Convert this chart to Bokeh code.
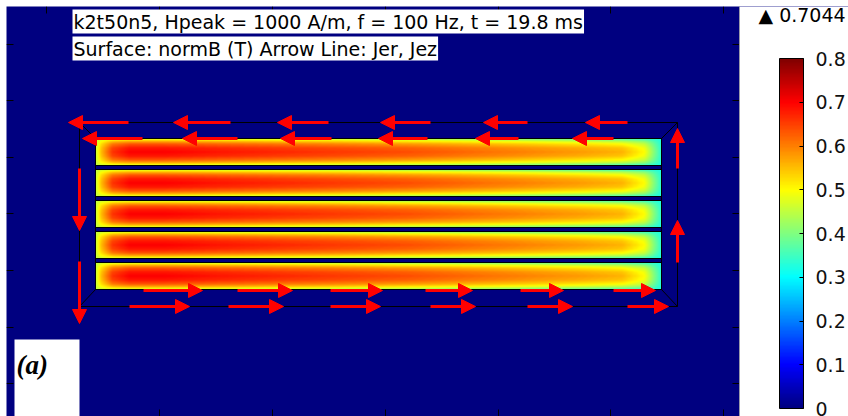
import numpy as np
from bokeh.plotting import figure
from bokeh.models import (Range1d, ColumnDataSource, Arrow, NormalHead, Label, ColorBar,
                          LinearColorMapper, FixedTicker, PrintfTickFormatter,
                          BoxAnnotation, Span)
from bokeh.embed import file_html
from bokeh.resources import INLINE

# ---------------- data ----------------
title_line1 = "k2t50n5, Hpeak = 1000 A/m, f = 100 Hz, t = 19.8 ms"
title_line2 = "Surface: normB (T) Arrow Line: Jer, Jez"
peak_label = "\u25B2 0.7044"
panel_label = "(a)"

# geometry (units: reference pixels, origin at lower-left of lamination stack)
strip_length = 566
strip_thickness = 27
strip_bottoms = [0, 31, 62, 93, 124]
stack_top = 151
outer_left, outer_right, outer_bottom, outer_top = -16, 582, -17, 167
domain_right = 644          # right edge of the plotted domain (navy area)

# normB profile along the lamination (u = 0 .. 1), centre line and surface
u_pts = [0.0, 0.01, 0.03, 0.06, 0.12, 0.25, 0.40, 0.55, 0.70, 0.85, 0.93, 0.97, 1.0]
center_B = [0.45, 0.55, 0.66, 0.70, 0.70, 0.68, 0.66, 0.64, 0.61, 0.58, 0.56, 0.50, 0.33]
edge_B = [0.45, 0.45, 0.45, 0.45, 0.45, 0.44, 0.43, 0.41, 0.39, 0.36, 0.34, 0.33, 0.32]
# relative depth profile across the thickness (0 = mid-plane, 1 = surface)
v_pts = [0.0, 0.3, 0.6, 0.8, 0.9, 1.0]
w_pts = [1.0, 0.93, 0.72, 0.45, 0.25, 0.0]

# eddy current arrows (tail -> tip)
top_outer_y = 167
top_outer_tail = [33, 135, 233, 335, 432, 532]
top_outer_tip = [-27, 78, 182, 285, 388, 490]
top_inner_y = 151
top_inner_tail = [47, 142, 236, 332, 423, 518]
top_inner_tip = [-13, 87, 185, 283, 380, 477]
bot_inner_y = -1
bot_inner_tail = [48, 142, 235, 330, 425, 518]
bot_inner_tip = [107, 197, 287, 377, 468, 560]
bot_outer_y = -17
bot_outer_tail = [34, 133, 235, 335, 432, 532]
bot_outer_tip = [94, 188, 285, 380, 477, 573]
left_x = -16
left_tail = [121, 28]
left_tip = [59, -34]
right_x = 582
right_tail = [121, 27]
right_tip = [161, 69]

cbar_ticks = [0, 0.1, 0.2, 0.3, 0.4, 0.5, 0.6, 0.7, 0.8]
x_ticks = [-49, 64, 177, 290, 403, 515, 628]
y_ticks = [245, 189, 132, 76, 19, -38, -94]

# ---------------- colour map (rainbow / jet) ----------------
def jet_hex(t):
    r = min(max(1.5 - abs(4 * t - 3), 0), 1)
    g = min(max(1.5 - abs(4 * t - 2), 0), 1)
    b = min(max(1.5 - abs(4 * t - 1), 0), 1)
    return "#%02x%02x%02x" % (int(round(r * 255)), int(round(g * 255)), int(round(b * 255)))

palette = [jet_hex(i / 255) for i in range(256)]
mapper = LinearColorMapper(palette=palette, low=0, high=0.8)

# ---------------- field image ----------------
nx, ny = strip_length, strip_thickness
u = (np.arange(nx) + 0.5) / nx
v = np.abs((np.arange(ny) + 0.5) / ny * 2 - 1)
c_u = np.interp(u, u_pts, center_B)
e_u = np.interp(u, u_pts, edge_B)
w_v = np.interp(v, v_pts, w_pts)
field = e_u[None, :] + (c_u - e_u)[None, :] * w_v[:, None]

X0, X1, Y0, Y1 = -89, 753, -127, 283
p = figure(width=848, height=416, output_backend="svg", toolbar_location=None,
           x_range=Range1d(X0, X1), y_range=Range1d(Y0, Y1),
           x_axis_type=None, y_axis_type=None,
           min_border_left=6, min_border_right=0, min_border_top=6, min_border_bottom=0)
p.background_fill_color = "#000080"
p.border_fill_color = "white"
p.outline_line_color = None

img_src = ColumnDataSource(dict(image=[field] * len(strip_bottoms),
                                x=[0] * len(strip_bottoms), y=strip_bottoms,
                                dw=[strip_length] * len(strip_bottoms),
                                dh=[strip_thickness] * len(strip_bottoms)))
p.image(image="image", x="x", y="y", dw="dw", dh="dh", source=img_src, color_mapper=mapper)

# strip outlines
p.quad(left=0, right=strip_length, bottom=strip_bottoms,
       top=[b + strip_thickness for b in strip_bottoms],
       fill_color=None, line_color="black", line_width=1)
p.quad(left=0, right=strip_length, bottom=0, top=stack_top,
       fill_color=None, line_color="black", line_width=1)
p.quad(left=outer_left, right=outer_right, bottom=outer_bottom, top=outer_top,
       fill_color=None, line_color="black", line_width=1)
p.segment(x0=[0, strip_length, 0, strip_length], y0=[stack_top, stack_top, 0, 0],
          x1=[outer_left, outer_right, outer_left, outer_right],
          y1=[outer_top, outer_top, outer_bottom, outer_bottom],
          line_color="black", line_width=1)

# small inner tick marks of the cropped axes
tl = 7
p.segment(x0=[X0] * len(y_ticks), x1=[X0 + tl] * len(y_ticks), y0=y_ticks, y1=y_ticks,
          line_color="black", line_width=1)
p.segment(x0=[domain_right - tl] * len(y_ticks), x1=[domain_right] * len(y_ticks),
          y0=y_ticks, y1=y_ticks, line_color="black", line_width=1)
p.segment(x0=x_ticks, x1=x_ticks, y0=[Y1] * len(x_ticks), y1=[Y1 - tl] * len(x_ticks),
          line_color="black", line_width=1)
p.segment(x0=x_ticks, x1=x_ticks, y0=[Y0] * len(x_ticks), y1=[Y0 + tl] * len(x_ticks),
          line_color="black", line_width=1)

# arrows
xs, ys, xe, ye = [], [], [], []
for yy, tails, tips in [(top_outer_y, top_outer_tail, top_outer_tip),
                        (top_inner_y, top_inner_tail, top_inner_tip),
                        (bot_inner_y, bot_inner_tail, bot_inner_tip),
                        (bot_outer_y, bot_outer_tail, bot_outer_tip)]:
    for a, b in zip(tails, tips):
        xs.append(a); xe.append(b); ys.append(yy); ye.append(yy)
for xx, tails, tips in [(left_x, left_tail, left_tip), (right_x, right_tail, right_tip)]:
    for a, b in zip(tails, tips):
        xs.append(xx); xe.append(xx); ys.append(a); ye.append(b)
arr_src = ColumnDataSource(dict(xs=xs, ys=ys, xe=xe, ye=ye))
p.add_layout(Arrow(end=NormalHead(size=14, fill_color="red", line_color="red", line_width=1),
                   x_start="xs", y_start="ys", x_end="xe", y_end="ye", source=arr_src,
                   line_color="red", line_width=3))

# white area to the right of the domain (colour legend area)
p.add_layout(BoxAnnotation(left=domain_right, fill_color="white", fill_alpha=1,
                           line_color=None))
p.add_layout(Span(location=domain_right, dimension="height", line_color="#9a9aaa",
                  line_width=1))

# title boxes
for txt, sy in [(title_line1, 395), (title_line2, 368)]:
    p.add_layout(Label(x=66, y=sy, x_units="screen", y_units="screen", text=txt,
                       text_font="DejaVu Sans", text_font_size="19px", text_color="black",
                       text_baseline="middle", background_fill_color="white", padding=1))

# (a) box
p.add_layout(BoxAnnotation(left=-81, right=-16, top=-50, fill_color="white", fill_alpha=1,
                           line_color=None))
p.add_layout(Label(x=-79, y=-75, text=panel_label, text_font="Liberation Serif",
                   text_font_style="bold italic", text_font_size="27px", text_color="black",
                   text_baseline="middle"))

# peak label
p.add_layout(Label(x=752, y=402, x_units="screen", y_units="screen", text=peak_label,
                   text_font="DejaVu Sans", text_font_size="19px", text_color="black",
                   text_baseline="middle"))

cb = ColorBar(color_mapper=mapper, ticker=FixedTicker(ticks=cbar_ticks),
              formatter=PrintfTickFormatter(format="%.1f"), major_label_overrides={0: "0"},
              width=24, height=350, padding=0, location=(773, 8),
              major_label_text_font="DejaVu Sans", major_label_text_font_size="19px",
              major_label_text_color="#111111", bar_line_color="black",
              major_tick_line_color="black", major_tick_in=4, major_tick_out=0,
              label_standoff=12, background_fill_color=None, border_line_color=None)
p.add_layout(cb, "center")

open("out.html", "w").write(file_html(p, INLINE))
